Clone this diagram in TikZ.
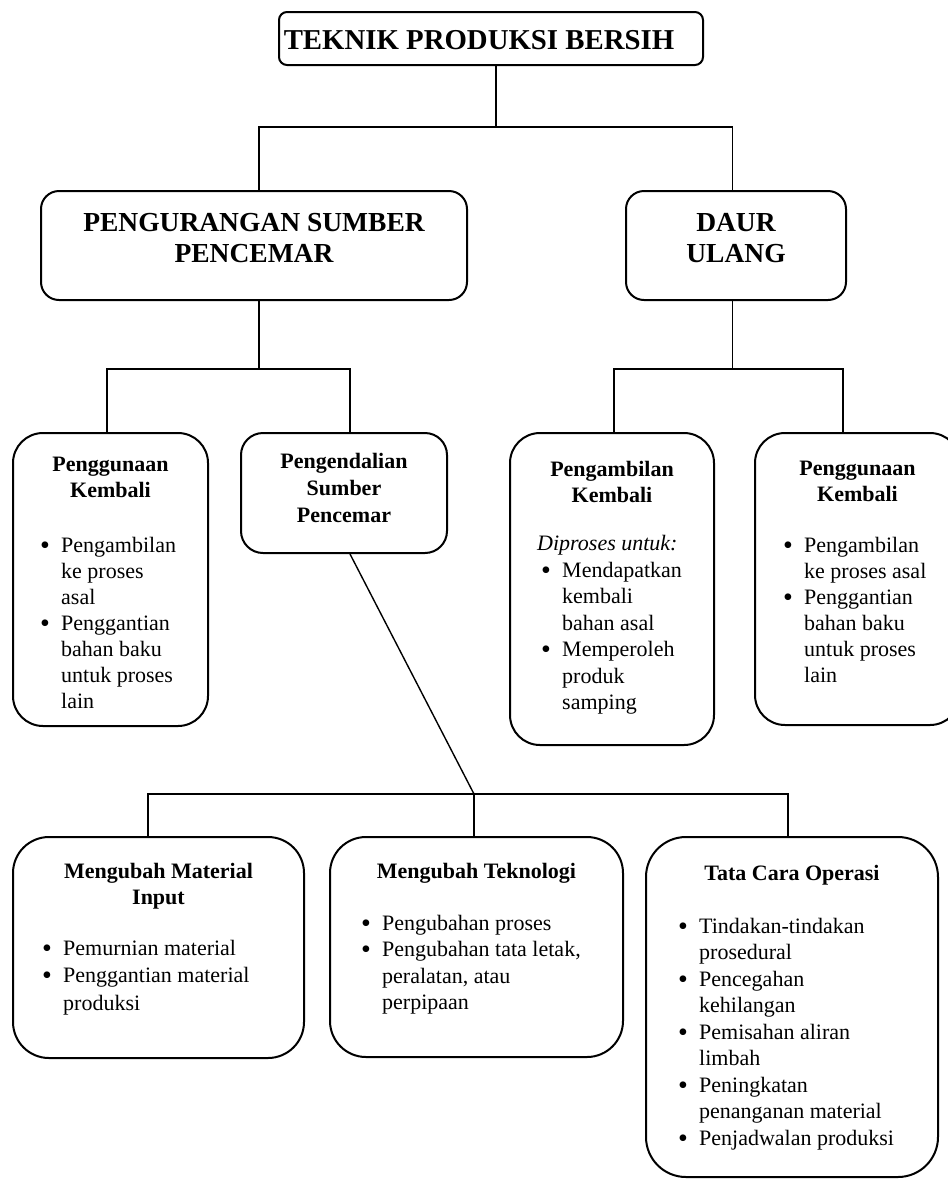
\documentclass[tikz,border=0pt]{standalone}
\usepackage{fontspec}
\setmainfont{Liberation Serif}
\newcommand\bl{\makebox[21pt][l]{\raisebox{-1.8pt}{\fontsize{28}{26}\selectfont\textbullet}}}
\newcommand\cl{\hspace*{21pt}}
\begin{document}
\begin{tikzpicture}[x=1pt,y=-1pt,
  box/.style={draw, line width=2pt, rounded corners=#1, inner sep=0pt},
  wire/.style={line width=1.4pt},
  bigtxt/.style={font=\bfseries\fontsize{27.5}{31}\selectfont, align=center, inner sep=0pt, anchor=north},
  head/.style={font=\bfseries\fontsize{22}{26}\selectfont, align=center, inner sep=0pt, anchor=north},
  body/.style={font=\fontsize{22}{26.5}\selectfont, align=left, inner sep=0pt, anchor=north west},
]
\useasboundingbox (0,0) rectangle (948,1179);

% ---- level 1 ----
\node[box=8pt, minimum width=424pt, minimum height=53pt] (title) at (491,38.5) {};
\node[font=\bfseries\fontsize{28.8}{31}\selectfont, inner sep=0pt] (titletxt) at (479,40.5) {TEKNIK PRODUKSI BERSIH};

% ---- level 2 ----
\node[box=18pt, minimum width=426pt, minimum height=109pt] (reduce) at (254,245.5) {};
\node[bigtxt] (reducetxt) at (254,213) {PENGURANGAN SUMBER\\PENCEMAR};
\node[box=18pt, minimum width=220pt, minimum height=109pt] (recycle) at (736,245.5) {};
\node[bigtxt] (recycletxt) at (736,213) {DAUR\\ULANG};

% ---- level 3 ----
\node[box=30pt, minimum width=195pt, minimum height=293pt] (L1) at (110.5,579.5) {};
\node[head] (L1h) at (110.5,457) {Penggunaan\\Kembali};
\node[body,font=\fontsize{22}{26}\selectfont] (L1b) at (40,537) {\bl Pengambilan\\\cl ke proses\\\cl asal\\\bl Penggantian\\\cl bahan baku\\\cl untuk proses\\\cl lain};

\node[box=22pt, minimum width=206pt, minimum height=120pt] (ctrl) at (344,493) {};
\node[head,font=\bfseries\fontsize{22}{27}\selectfont] (ctrlh) at (344,453) {Pengendalian\\Sumber\\Pencemar};

\node[box=30pt, minimum width=204pt, minimum height=312pt] (recov) at (612,589) {};
\node[head] (recovh) at (612,461) {Pengambilan\\Kembali};
\node[body] (recovi) at (537,535) {\itshape Diproses untuk:};
\node[body] (recovb) at (541,562) {\bl Mendapatkan\\\cl kembali\\\cl bahan asal\\\bl Memperoleh\\\cl produk\\\cl samping};

\node[box=30pt, minimum width=205pt, minimum height=292pt] (reuse2) at (857.5,579) {};
\node[head] (reuse2h) at (857.5,461) {Penggunaan\\Kembali};
\node[body,font=\fontsize{22}{26}\selectfont] (reuse2b) at (783,537) {\bl Pengambilan\\\cl ke proses asal\\\bl Penggantian\\\cl bahan baku\\\cl untuk proses\\\cl lain};

% ---- level 4 ----
\node[box=36pt, minimum width=291pt, minimum height=221pt] (mat) at (158.5,947.5) {};
\node[head] (math) at (158.5,863) {Mengubah Material\\Input};
\node[body,font=\fontsize{22}{27.5}\selectfont] (matb) at (42,940) {\bl Pemurnian material\\\bl Penggantian material\\\cl produksi};

\node[box=36pt, minimum width=293pt, minimum height=220pt] (tech) at (476.5,947) {};
\node[head] (techh) at (476.5,863) {Mengubah Teknologi};
\node[body] (techb) at (361,915) {\bl Pengubahan proses\\\bl Pengubahan tata letak,\\\cl peralatan, atau\\\cl perpipaan};

\node[box=40pt, minimum width=292pt, minimum height=340pt] (ops) at (792,1007) {};
\node[head] (opsh) at (792,865) {Tata Cara Operasi};
\node[body] (opsb) at (678,918) {\bl Tindakan-tindakan\\\cl prosedural\\\bl Pencegahan\\\cl kehilangan\\\bl Pemisahan aliran\\\cl limbah\\\bl Peningkatan\\\cl penanganan material\\\bl Penjadwalan produksi};

% ---- connectors ----
\coordinate (j1) at (496,127);
\draw[wire] ([xshift=5pt]title.south) -- (j1);
\draw[wire] ([xshift=5pt]reduce.north) |- (j1) -| ([xshift=-3.5pt]recycle.north);

\coordinate (j2) at (259,369);
\draw[wire] ([xshift=5pt]reduce.south) -- (j2);
\draw[wire] ([xshift=-3.5pt]L1.north) |- (j2) -| ([xshift=6pt]ctrl.north);

\coordinate (j3) at (732.5,369);
\draw[wire] ([xshift=-3.5pt]recycle.south) -- (j3);
\draw[wire] ([xshift=2pt]recov.north) |- (j3) -| ([xshift=-14.5pt]reuse2.north);

\coordinate (j4) at (474,794);
\draw[wire] ([xshift=6pt]ctrl.south) -- (j4);
\draw[wire] ([xshift=-10.5pt]mat.north) |- (j4) -| ([xshift=-4pt]ops.north);
\draw[wire] (j4) -- ([xshift=-2.5pt]tech.north);
\end{tikzpicture}
\end{document}
